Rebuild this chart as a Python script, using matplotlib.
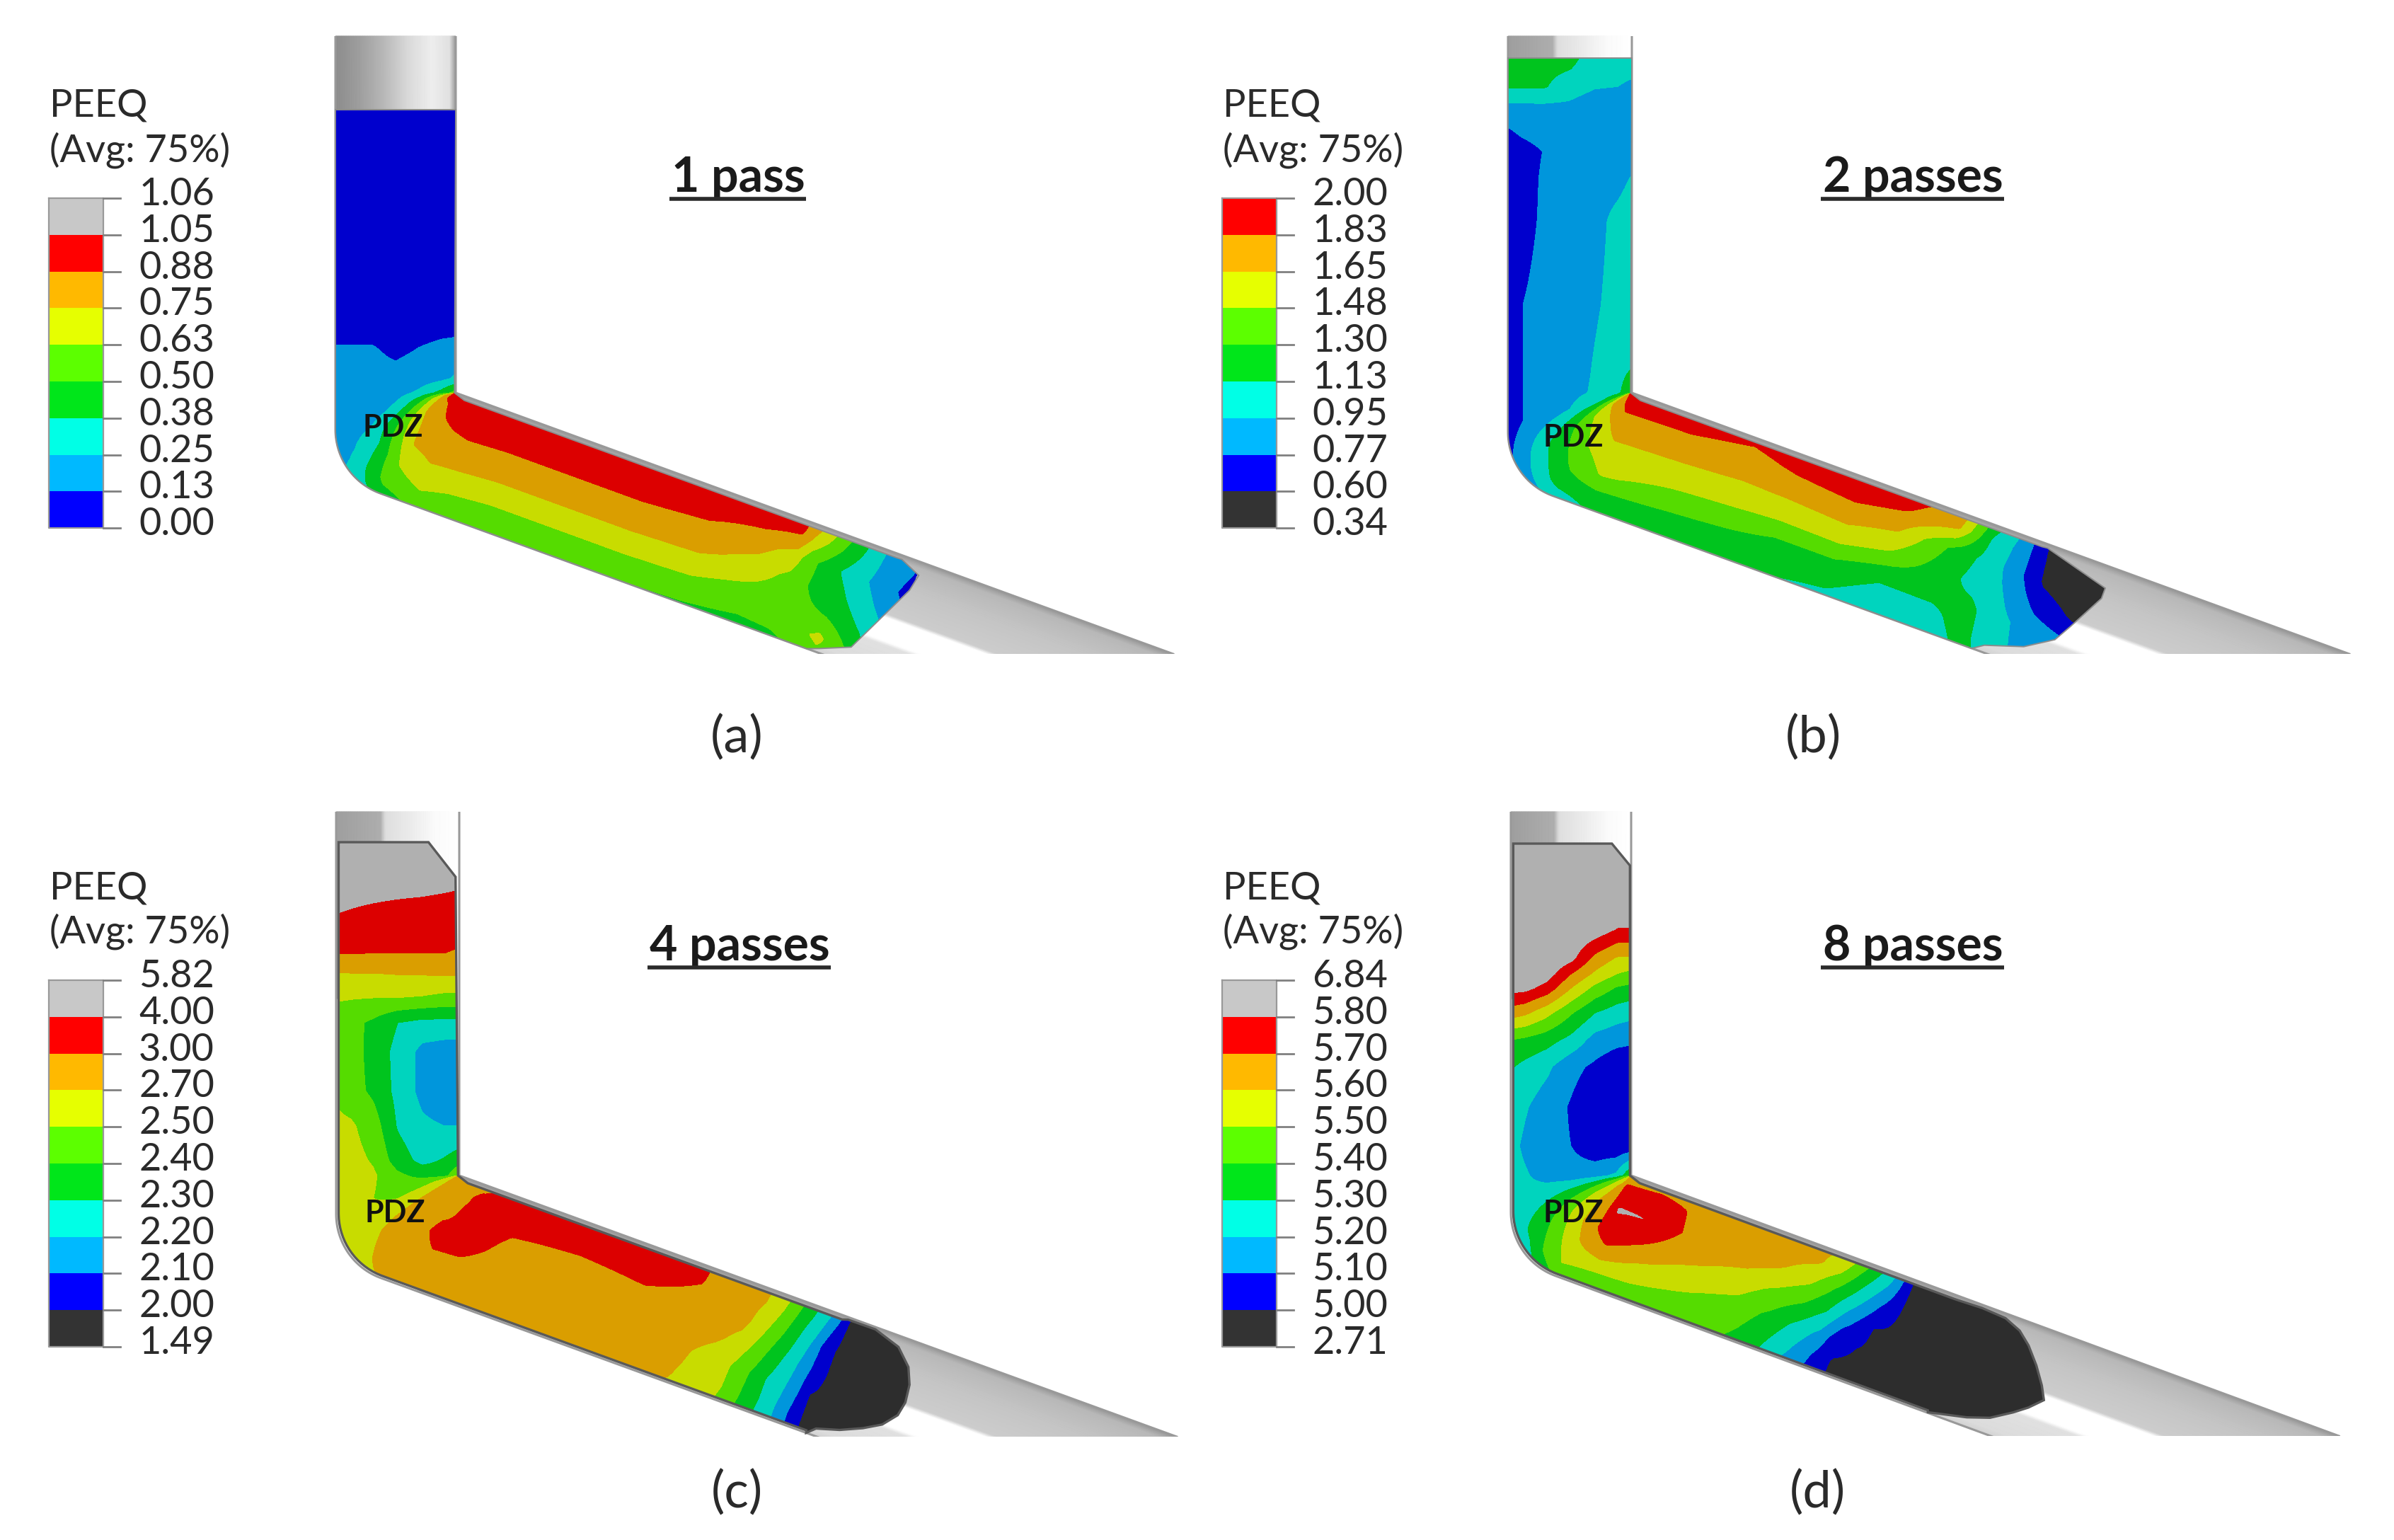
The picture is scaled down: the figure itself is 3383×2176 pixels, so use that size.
import numpy as np
import matplotlib
matplotlib.use("Agg")
import matplotlib.pyplot as plt
from matplotlib.patches import Polygon

plt.rcParams['font.family'] = ['Lato', 'DejaVu Sans']

# ---------- data ----------
T_COLS = [0, .12, .3, .5, .7, .88, 1]      # position across the channel

LEVELS_A = [0.00, 0.13, 0.25, 0.38, 0.50, 0.63, 0.75, 0.88, 1.05, 1.06]
LEVELS_B = [0.34, 0.60, 0.77, 0.95, 1.13, 1.30, 1.48, 1.65, 1.83, 2.00]
LEVELS_C = [1.49, 2.00, 2.10, 2.20, 2.30, 2.40, 2.50, 2.70, 3.00, 4.00, 5.82]
LEVELS_D = [2.71, 5.00, 5.10, 5.20, 5.30, 5.40, 5.50, 5.60, 5.70, 5.80, 6.84]

S_A = [-400, -120, -90, -60, -20, 0, 44, 100, 161, 216, 256, 316, 516, 616, 696, 746, 766, 816, 866, 916]
PEEQ_A = [
    [.05, .05, .05, .05, .05, .05, .05],
    [.05, .05, .05, .05, .05, .05, .05],
    [.10, .10, .10, .09, .10, .11, .11],
    [.14, .14, .14, .11, .135, .15, .16],
    [.16, .16, .16, .16, .18, .22, .27],
    [.17, .17, .18, .19, .28, .42, .55],
    [.16, .17, .19, .29, .49, .72, .85],
    [.24, .27, .36, .55, .72, .86, .92],
    [.42, .55, .64, .77, .84, .87, .93],
    [.55, .62, .72, .80, .87, .90, .92],
    [.50, .58, .70, .81, .90, .96, .98],
    [.50, .56, .68, .80, .89, .97, 1.0],
    [.50, .56, .68, .80, .89, .97, 1.0],
    [.49, .56, .66, .79, .87, .96, .98],
    [.47, .52, .60, .70, .80, .93, .97],
    [.48, .53, .56, .60, .70, .88, .92],
    [.50, .55, .53, .52, .55, .72, .80],
    [.60, .66, .50, .43, .37, .46, .50],
    [.62, .45, .37, .28, .22, .24, .25],
    [.30, .25, .20, .15, .08, .12, .12],
]

S_B = [-473, -432, -408, -373, -341, -303, -243, -124, -40, 0, 44, 100, 161, 216, 316, 406, 476, 566, 636, 716, 766, 806, 856, 906, 956]
PEEQ_B = [
    [1.2, 1.2, 1.2, 1.2, 1.0, 1.0, 1.0],
    [1.14, 1.14, 1.14, 1.02, .96, .95, .93],
    [.94, .94, .94, .93, .87, .85, .85],
    [.76, .82, .86, .86, .86, .85, .85],
    [.65, .70, .78, .85, .86, .85, .85],
    [.66, .70, .80, .86, .88, .90, .96],
    [.66, .72, .80, .86, .90, .99, 1.03],
    [.66, .77, .82, .87, .93, 1.0, 1.05],
    [.67, .77, .82, .87, .96, 1.03, 1.10],
    [.66, .77, .82, .90, .97, 1.07, 1.30],
    [.66, .77, .84, .95, 1.07, 1.22, 1.40],
    [.80, .95, 1.15, 1.30, 1.50, 1.70, 1.85],
    [1.0, 1.2, 1.35, 1.50, 1.62, 1.78, 1.85],
    [1.16, 1.24, 1.50, 1.59, 1.73, 1.86, 1.95],
    [1.14, 1.22, 1.41, 1.57, 1.72, 1.85, 1.95],
    [1.14, 1.20, 1.36, 1.56, 1.69, 1.79, 1.88],
    [1.14, 1.20, 1.30, 1.55, 1.71, 1.87, 1.95],
    [1.09, 1.18, 1.30, 1.57, 1.74, 1.92, 1.98],
    [.98, 1.04, 1.17, 1.46, 1.67, 1.85, 1.92],
    [.98, 1.05, 1.17, 1.20, 1.27, 1.67, 1.75],
    [1.17, 1.20, 1.18, 1.06, 1.08, 1.11, 1.20],
    [1.10, 1.03, 1.02, .95, .89, .90, .92],
    [.90, .90, .87, .72, .55, .50, .45],
    [.85, .82, .80, .58, .40, .40, .40],
    [.70, .70, .68, .40, .36, .35, .35],
]

S_C = [-471, -405, -370, -314, -286, -251, -216, -175, -119, -70, -21, 0, 44, 100, 161, 216, 256, 316, 416, 516, 591, 636, 666, 696, 721, 746, 766, 786, 806, 856, 976]
PEEQ_C = [
    [5.0, 5.0, 5.0, 5.0, 5.0, 5.0, 5.0],
    [4.8, 4.7, 4.6, 4.5, 4.4, 4.2, 4.0],
    [4.0, 3.9, 3.75, 3.6, 3.5, 3.4, 3.4],
    [3.02, 3.02, 3.0, 3.0, 3.0, 3.0, 2.98],
    [2.69, 2.7, 2.7, 2.72, 2.73, 2.74, 2.75],
    [2.52, 2.51, 2.5, 2.5, 2.49, 2.47, 2.47],
    [2.45, 2.43, 2.38, 2.30, 2.27, 2.27, 2.27],
    [2.45, 2.45, 2.36, 2.27, 2.17, 2.15, 2.15],
    [2.48, 2.44, 2.38, 2.27, 2.17, 2.12, 2.12],
    [2.55, 2.53, 2.45, 2.29, 2.22, 2.20, 2.20],
    [2.58, 2.57, 2.49, 2.35, 2.27, 2.31, 2.35],
    [2.6, 2.58, 2.53, 2.42, 2.37, 2.36, 2.5],
    [2.6, 2.55, 2.5, 2.45, 2.48, 2.55, 2.65],
    [2.6, 2.62, 2.68, 2.71, 2.75, 2.75, 2.8],
    [2.7, 2.8, 2.88, 2.92, 2.9, 2.85, 2.8],
    [2.75, 2.85, 2.97, 3.2, 2.95, 2.9, 2.85],
    [2.8, 2.9, 2.97, 3.15, 3.25, 3.1, 2.95],
    [2.8, 2.85, 2.92, 2.96, 3.02, 3.2, 3.3],
    [2.8, 2.85, 2.9, 2.94, 2.99, 3.2, 3.3],
    [2.78, 2.84, 2.9, 2.95, 3.02, 3.2, 3.3],
    [2.69, 2.72, 2.78, 2.88, 2.97, 3.02, 3.05],
    [2.57, 2.6, 2.61, 2.76, 2.85, 2.88, 2.9],
    [2.49, 2.5, 2.51, 2.64, 2.78, 2.8, 2.8],
    [2.38, 2.39, 2.4, 2.46, 2.54, 2.66, 2.68],
    [2.29, 2.3, 2.3, 2.35, 2.41, 2.46, 2.49],
    [2.2, 2.2, 2.22, 2.25, 2.29, 2.33, 2.36],
    [2.1, 2.1, 2.13, 2.15, 2.19, 2.25, 2.27],
    [2.0, 2.0, 2.0, 2.05, 2.05, 2.12, 2.18],
    [1.9, 1.9, 1.9, 1.9, 1.9, 1.95, 1.98],
    [1.7, 1.7, 1.7, 1.7, 1.7, 1.7, 1.7],
    [1.6, 1.6, 1.6, 1.6, 1.6, 1.6, 1.6],
]

S_D = [-471, -349, -307, -285, -265, -230, -192, -154, -98, -42, 0, 44, 100, 161, 216, 266, 316, 416, 466, 506, 541, 571, 611, 646, 716, 956]
PEEQ_D = [
    [6.84, 6.84, 6.84, 6.84, 6.84, 6.84, 6.84],
    [6.84, 6.84, 6.84, 6.84, 6.5, 5.8, 5.8],
    [6.84, 6.84, 6.84, 6.1, 5.67, 5.59, 5.59],
    [6.84, 6.84, 6.3, 5.7, 5.58, 5.5, 5.47],
    [6.2, 6.1, 5.76, 5.6, 5.47, 5.39, 5.37],
    [5.65, 5.62, 5.53, 5.41, 5.3, 5.25, 5.23],
    [5.4, 5.38, 5.34, 5.27, 5.16, 5.13, 5.12],
    [5.31, 5.27, 5.22, 5.13, 5.08, 5.03, 5.02],
    [5.26, 5.21, 5.15, 5.09, 5.02, 5.01, 5.01],
    [5.23, 5.18, 5.13, 5.1, 5.03, 5.02, 5.02],
    [5.24, 5.21, 5.16, 5.14, 5.16, 5.22, 5.4],
    [5.25, 5.24, 5.28, 5.33, 5.38, 5.42, 5.5],
    [5.2, 5.33, 5.42, 5.52, 5.58, 5.58, 5.5],
    [5.4, 5.5, 5.58, 5.66, 5.66, 5.65, 5.6],
    [5.42, 5.48, 5.64, 5.78, 5.85, 5.75, 5.6],
    [5.43, 5.48, 5.58, 5.7, 5.8, 5.75, 5.65],
    [5.42, 5.46, 5.54, 5.63, 5.69, 5.69, 5.65],
    [5.39, 5.43, 5.47, 5.55, 5.64, 5.66, 5.65],
    [5.3, 5.33, 5.38, 5.47, 5.59, 5.65, 5.65],
    [5.18, 5.22, 5.28, 5.4, 5.52, 5.62, 5.62],
    [5.08, 5.1, 5.18, 5.3, 5.4, 5.53, 5.6],
    [4.8, 4.9, 5.02, 5.15, 5.28, 5.38, 5.45],
    [4.6, 4.7, 4.8, 5.0, 5.1, 5.2, 5.25],
    [4.5, 4.5, 4.5, 4.5, 4.5, 4.5, 4.5],
    [3.5, 3.5, 3.5, 3.5, 3.5, 3.5, 3.5],
    [3.0, 3.0, 3.0, 3.0, 3.0, 3.0, 3.0],
]

LABELS_A = ["1.06", "1.05", "0.88", "0.75", "0.63", "0.50", "0.38", "0.25", "0.13", "0.00"]
LABELS_B = ["2.00", "1.83", "1.65", "1.48", "1.30", "1.13", "0.95", "0.77", "0.60", "0.34"]
LABELS_C = ["5.82", "4.00", "3.00", "2.70", "2.50", "2.40", "2.30", "2.20", "2.10", "2.00", "1.49"]
LABELS_D = ["6.84", "5.80", "5.70", "5.60", "5.50", "5.40", "5.30", "5.20", "5.10", "5.00", "2.71"]

TITLES = ["1 pass", "2 passes", "4 passes", "8 passes"]
CAPTIONS = ["(a)", "(b)", "(c)", "(d)"]

# material outline: end of the billet (outlet distance, channel position)
NOSE_A = [(590, 0), (608, .04), (648, .138), (698, .748), (703, .89), (673, .967)]
NOSE_B = [(575, 0), (590, .058), (643, .156), (681, .295), (695, .435), (723, .737), (723, .825), (627, .97)]
NOSE_C = [(585, .0), (596, .06), (628, .115), (658, .193), (682, .275), (698, .389), (702, .508), (699, .654),
          (689, .786), (666, .912), (627, .982), (586, .98)]
NOSE_D = [(509, .005), (563, .077), (594, .14), (622, .248), (640, .33), (657, .433), (647, .542), (630, .682),
          (610, .815), (591, .905), (566, .962), (530, .974), (496, .966)]
# material outline at the inlet (distance above corner, channel position)
HEAD_A = [(-400, 0), (-400, 1)]
HEAD_B = [(-473, 0), (-473, 1)]
HEAD_C = [(-471, .03), (-471, .75), (-422, .97)]
HEAD_D = [(-469, .02), (-469, .84), (-438, .99)]

ROD_T = [0, .2, .4, .6, .8, .95, 1]
ROD_GREY = [.55, .62, .72, .85, .93, .88, .6]
ROD2_T = [0, .36, .4, .6, .8, 1]
ROD2_GREY = [.62, .68, .87, .92, .98, 1]
DIE_T = [0, .05, .25, .28, .47, .5, .75, .95, 1]
DIE_GREY = [.82, .86, .88, 1, 1, .80, .77, .72, .6]

# ---------- styles ----------
LEG = dict(dark="#333333", blue="#0000ff", lb="#00b9ff", cyan="#00ffe6", green="#00e61a",
           lg="#5cff00", yellow="#e6ff00", orange="#ffb900", red="#ff0000", grey="#c8c8c8")
FLD = dict(dark="#2d2d2d", blue="#0000cd", lb="#0096dc", cyan="#00d4be", green="#00c41e",
           lg="#55dc00", yellow="#c8dc00", orange="#da9e00", red="#dc0000", grey="#b0b0b0")
BANDS_A = ["blue", "lb", "cyan", "green", "lg", "yellow", "orange", "red", "grey"]
BANDS_B = ["dark", "blue", "lb", "cyan", "green", "lg", "yellow", "orange", "red"]
BANDS_C = ["dark", "blue", "lb", "cyan", "green", "lg", "yellow", "orange", "red", "grey"]

TXT = "#2a2a2a"
fig = plt.figure(figsize=(33.83, 21.76), dpi=100)
ax = fig.add_axes([0, 0, 1, 1])
ax.set_xlim(0, 3383)
ax.set_ylim(2176, 0)
ax.axis("off")


class Channel:
    def __init__(self, L, R, top, cy, bottom, ang):
        self.L, self.R, self.top, self.cy, self.bottom = L, R, top, cy, bottom
        th = np.radians(ang)
        self.u = np.array([np.cos(th), np.sin(th)])
        W = R - L
        self.C = np.array([R, cy], float)
        self.oe = self.C + W * np.array([-np.sin(th), np.cos(th)])
        r0 = 96.0
        phi = np.radians(90 - ang)
        ax_end = L + r0 * (1 - np.cos(phi))
        ay_end = self.oe[1] - (self.oe[0] - ax_end) * np.tan(th)
        cy0 = ay_end - r0 * np.sin(phi)
        ph = np.linspace(0, phi, 40)
        ox = np.r_[L, L + r0 * (1 - np.cos(ph)), self.oe[0]]
        oy = np.r_[cy, cy0 + r0 * np.sin(ph), self.oe[1]]
        seg = np.r_[0, np.cumsum(np.hypot(np.diff(ox), np.diff(oy)))]
        self.fs, self.ox, self.oy = seg / seg[-1] * 216.0, ox, oy

    def xy(self, s, t):
        s, t = np.asarray(s, float), np.asarray(t, float)
        s, t = np.broadcast_arrays(s, t)
        outer_x = np.where(s < 0, self.L, np.where(s <= 216, np.interp(s, self.fs, self.ox), self.oe[0] + (s - 216) * self.u[0]))
        outer_y = np.where(s < 0, self.cy + s, np.where(s <= 216, np.interp(s, self.fs, self.oy), self.oe[1] + (s - 216) * self.u[1]))
        inner_x = np.where(s <= 216, self.R, self.R + (s - 216) * self.u[0])
        inner_y = np.where(s < 0, self.cy + s, np.where(s <= 216, self.cy, self.cy + (s - 216) * self.u[1]))
        return outer_x + (inner_x - outer_x) * t, outer_y + (inner_y - outer_y) * t


def draw_die(ch, rod_t, rod_grey):
    tt = np.linspace(0, 1, 120)
    ss = np.array([ch.top - ch.cy, -250.0])
    X, Y = ch.xy(ss[:, None], tt[None, :])
    G = np.tile(np.interp(tt, rod_t, rod_grey), (2, 1))
    ax.pcolormesh(X, Y, G, cmap="gray", vmin=0, vmax=1, shading="gouraud", zorder=1)
    ss = np.array([216.0, 1500.0])
    X, Y = ch.xy(ss[:, None], tt[None, :])
    G = np.tile(np.interp(tt, DIE_T, DIE_GREY), (2, 1))
    m = ax.pcolormesh(X, Y, G, cmap="gray", vmin=0, vmax=1, shading="gouraud", zorder=1)
    clip = plt.Rectangle((0, ch.top), 3383, ch.bottom - ch.top, transform=ax.transData)
    m.set_clip_path(clip)
    sw = np.r_[ch.top - ch.cy, np.linspace(-1, 217, 60), 216 + (ch.bottom - ch.cy) / ch.u[1]]
    xo, yo = ch.xy(sw, 0.0)
    lo = ax.plot(xo, yo, color="0.6", lw=2.2, zorder=2)[0]
    lo.set_clip_path(clip)
    xi, yi = ch.xy(np.array([ch.top - ch.cy, 0, 216 + (ch.bottom - ch.cy) / ch.u[1]]), 1.0)
    li = ax.plot(xi, yi, color="0.6", lw=2.2, zorder=2)[0]
    li.set_clip_path(clip)


def draw_field(ch, S, Z, levels, bands, nose, head, tlow, edge, elw):
    S = np.asarray(S, float)
    pos = np.interp(np.asarray(Z, float), levels, np.arange(len(levels)))
    ss = np.linspace(S[0], S[-1], 500)
    tt = np.linspace(0, 1, 90)
    p1 = np.array([np.interp(ss, S, pos[:, j]) for j in range(pos.shape[1])]).T
    fine = np.array([np.interp(tt, T_COLS, row) for row in p1])
    X, Y = ch.xy(ss[:, None], tt[None, :])
    n = len(levels) - 1
    fine = np.clip(fine, .01, n - .01)
    cs = ax.contourf(X, Y, fine, levels=np.arange(n + 1), colors=[FLD[b] for b in bands], zorder=3)
    n0 = 216 + nose[0][0]
    s_low = np.r_[head[0][0], np.linspace(head[0][0] + 1, n0 - 1, 200)]
    lx, ly = ch.xy(s_low, tlow)
    nx, ny = ch.xy([216 + a for a, b in nose], [b for a, b in nose])
    s_up = np.linspace(216 + nose[-1][0] - 8, 216 + 15, 40)
    ux, uy = ch.xy(s_up, .965)
    hs = [a for a, b in head][::-1]
    ht = [b for a, b in head][::-1]
    hx, hy = ch.xy(hs, ht)
    rx, ry = ch.xy([0.0, hs[0] + 3], [.99, ht[0]])
    px = np.r_[lx, nx, ux, rx, hx]
    py = np.r_[ly, ny, uy, ry, hy]
    outline = Polygon(np.c_[px, py], closed=True, transform=ax.transData, fill=False,
                      edgecolor=edge, lw=elw, zorder=4)
    ax.add_patch(outline)
    cs.set_clip_path(outline)


def draw_legend(x0, ytop, labels, bands, rx, ytxt):
    h = 51.8
    n = len(bands)
    for i, b in enumerate(bands):
        ax.bar(x0, h, width=77, bottom=ytop + (n - 1 - i) * h, align="edge", color=LEG[b], linewidth=0, zorder=2)
    ax.plot([x0, x0, x0 + 77, x0 + 77, x0], [ytop, ytop + n * h, ytop + n * h, ytop, ytop], color="0.6", lw=1.6, zorder=3)
    for i, lab in enumerate(labels):
        y = ytop + i * h
        ax.plot([x0 + 77, x0 + 101], [y, y], color="0.5", lw=2, zorder=3)
        ax.text(rx, y + 10, lab, ha="right", va="baseline", fontsize=39, color=TXT)
    ax.text(x0 + 1, ytxt[0], "PEEQ", ha="left", va="baseline", fontsize=39, color=TXT)
    ax.text(x0 + 1, ytxt[1], "(Avg: 75%)", ha="left", va="baseline", fontsize=39, color=TXT)


def annotate(title, tx, ty, cap, cx, cy, pdz):
    t = ax.text(tx, ty, title, ha="center", va="baseline", fontsize=49, fontweight="bold", color="#1a1a1a", zorder=6)
    fig.canvas.draw()
    bb = t.get_window_extent().transformed(ax.transData.inverted())
    ax.plot([bb.x0 - 3, bb.x1 + 2], [ty + 10, ty + 10], color="#2a2a2a", lw=4, zorder=6, solid_capstyle="butt")
    ax.text(cx, cy, cap, ha="center", va="center", fontsize=52, color=TXT)
    ax.text(pdz[0], pdz[1], "PDZ", ha="center", va="center", fontsize=31, fontweight="bold", color="#111111", zorder=7)


panels = [
    (Channel(474, 644, 51, 555, 924, 20), PEEQ_A, S_A, LEVELS_A, BANDS_A, NOSE_A, HEAD_A, 0.0, ROD_T, ROD_GREY, "0.55", 1.4),
    (Channel(2131, 2306, 51, 555, 924, 20), PEEQ_B, S_B, LEVELS_B, BANDS_B, NOSE_B, HEAD_B, 0.0, ROD2_T, ROD2_GREY, "0.55", 1.4),
    (Channel(475, 649, 1147, 1661, 2030, 20), PEEQ_C, S_C, LEVELS_C, BANDS_C, NOSE_C, HEAD_C, .02, ROD2_T, ROD2_GREY, "0.35", 2.4),
    (Channel(2135, 2305, 1147, 1661, 2029, 20.2), PEEQ_D, S_D, LEVELS_D, BANDS_C, NOSE_D, HEAD_D, .02, ROD2_T, ROD2_GREY, "0.35", 2.4),
]
for ch, Z, S, lev, bands, nose, head, tlow, rt, rod, edge, elw in panels:
    draw_die(ch, rt, rod)
    draw_field(ch, S, Z, lev, bands, nose, head, tlow, edge, elw)

draw_legend(69, 280, LABELS_A, BANDS_A, 303, (165, 228))
draw_legend(1727, 280, LABELS_B, BANDS_B, 1961, (165, 228))
draw_legend(69, 1385, LABELS_C, BANDS_C, 303, (1270, 1333))
draw_legend(1727, 1385, LABELS_D, BANDS_C, 1961, (1270, 1333))

annotate(TITLES[0], 1043, 271, CAPTIONS[0], 1041, 1042, (555, 604))
annotate(TITLES[1], 2703, 271, CAPTIONS[1], 2562, 1042, (2223, 618))
annotate(TITLES[2], 1045, 1357, CAPTIONS[2], 1041, 2109, (558, 1714))
annotate(TITLES[3], 2703, 1357, CAPTIONS[3], 2568, 2109, (2223, 1714))

fig.savefig("out.png", dpi=100, facecolor="white")
